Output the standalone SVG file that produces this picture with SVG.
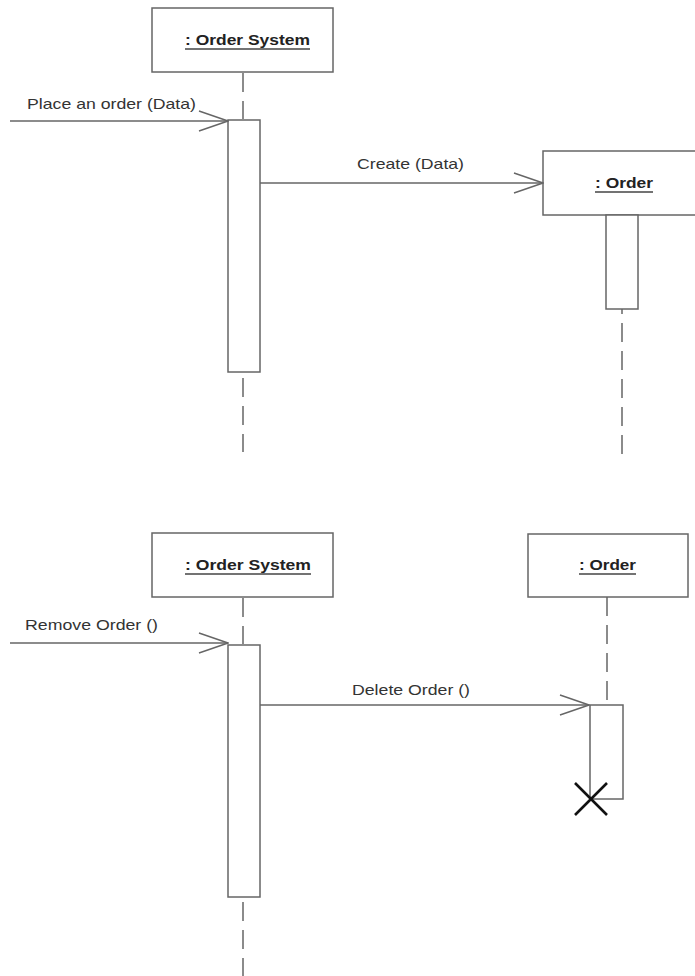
<svg xmlns="http://www.w3.org/2000/svg" width="695" height="976" viewBox="0 0 695 976">
  <style>
    .box { fill: #fff; stroke: #666; stroke-width: 1.5; }
    .act { fill: #fff; stroke: #666; stroke-width: 1.5; }
    .life { stroke: #666; stroke-width: 1.5; stroke-dasharray: 19 9; fill: none; }
    .msg { stroke: #666; stroke-width: 1.4; fill: none; }
    .title { font-family: "Liberation Sans", Arial, sans-serif; font-weight: bold; font-size: 15px; fill: #222; }
    .uline { stroke: #444; stroke-width: 1.3; }
    .label { font-family: "Liberation Sans", Arial, sans-serif; font-size: 15px; fill: #333; }
    .destroy { stroke: #111; stroke-width: 2.6; fill: none; }
  </style>
  <defs>
    <marker id="open" markerUnits="userSpaceOnUse" viewBox="0 0 31 22" refX="30" refY="11" markerWidth="31" markerHeight="22" orient="auto">
      <path d="M1,1 L30,11 L1,21" fill="none" stroke="#666" stroke-width="1.4"/>
    </marker>
  </defs>
  <rect width="695" height="976" fill="#fff"/>

  <!-- Scenario 1: creating an order -->
  <g id="sys1">
    <line class="life" x1="243" y1="73" x2="243" y2="119" stroke-dashoffset="0"/>
    <line class="life" x1="243" y1="378" x2="243" y2="452"/>
    <rect class="box" x="152" y="8" width="181" height="64"/>
    <text class="title" x="185" y="45" textLength="125" lengthAdjust="spacingAndGlyphs">: Order System</text>
    <line class="uline" x1="185" y1="49" x2="310" y2="49"/>
    <rect class="act" x="228" y="120" width="32" height="252"/>
  </g>

  <g id="order1">
    <line class="life" x1="622" y1="323" x2="622" y2="456"/>
    <line class="life" x1="622" y1="309" x2="622" y2="314" stroke-dasharray="none"/>
    <rect class="box" x="543" y="151" width="170" height="64"/>
    <text class="title" x="595" y="188" textLength="58" lengthAdjust="spacingAndGlyphs">: Order</text>
    <line class="uline" x1="595" y1="192" x2="653" y2="192"/>
    <rect class="act" x="606" y="215" width="32" height="94"/>
  </g>

  <!-- Scenario 2: removing an order -->
  <g id="sys2">
    <line class="life" x1="243" y1="598" x2="243" y2="644"/>
    <line class="life" x1="243" y1="902" x2="243" y2="976"/>
    <rect class="box" x="152" y="533" width="181" height="64"/>
    <text class="title" x="185" y="570" textLength="126" lengthAdjust="spacingAndGlyphs">: Order System</text>
    <line class="uline" x1="185" y1="574" x2="311" y2="574"/>
    <rect class="act" x="228" y="645" width="32" height="252"/>
  </g>

  <g id="order2">
    <line class="life" x1="607" y1="597" x2="607" y2="705"/>
    <rect class="box" x="528" y="534" width="160" height="63"/>
    <text class="title" x="579" y="570" textLength="57" lengthAdjust="spacingAndGlyphs">: Order</text>
    <line class="uline" x1="579" y1="574" x2="636" y2="574"/>
    <rect class="act" x="590" y="705" width="33" height="94"/>
    <path class="destroy" d="M575,783 L607,815 M607,783 L575,815"/>
  </g>

  <g id="connectors">
    <line class="msg" x1="10" y1="121" x2="228" y2="121" marker-end="url(#open)"/>
    <text class="label" x="27" y="109" textLength="169" lengthAdjust="spacingAndGlyphs">Place an order (Data)</text>

    <line class="msg" x1="260" y1="183" x2="543" y2="183" marker-end="url(#open)"/>
    <text class="label" x="357" y="169" textLength="107" lengthAdjust="spacingAndGlyphs">Create (Data)</text>

    <line class="msg" x1="10" y1="643" x2="228" y2="643" marker-end="url(#open)"/>
    <text class="label" x="25" y="630" textLength="133" lengthAdjust="spacingAndGlyphs">Remove Order ()</text>

    <line class="msg" x1="260" y1="705" x2="589" y2="705" marker-end="url(#open)"/>
    <text class="label" x="352" y="695" textLength="118" lengthAdjust="spacingAndGlyphs">Delete Order ()</text>
  </g>
</svg>
